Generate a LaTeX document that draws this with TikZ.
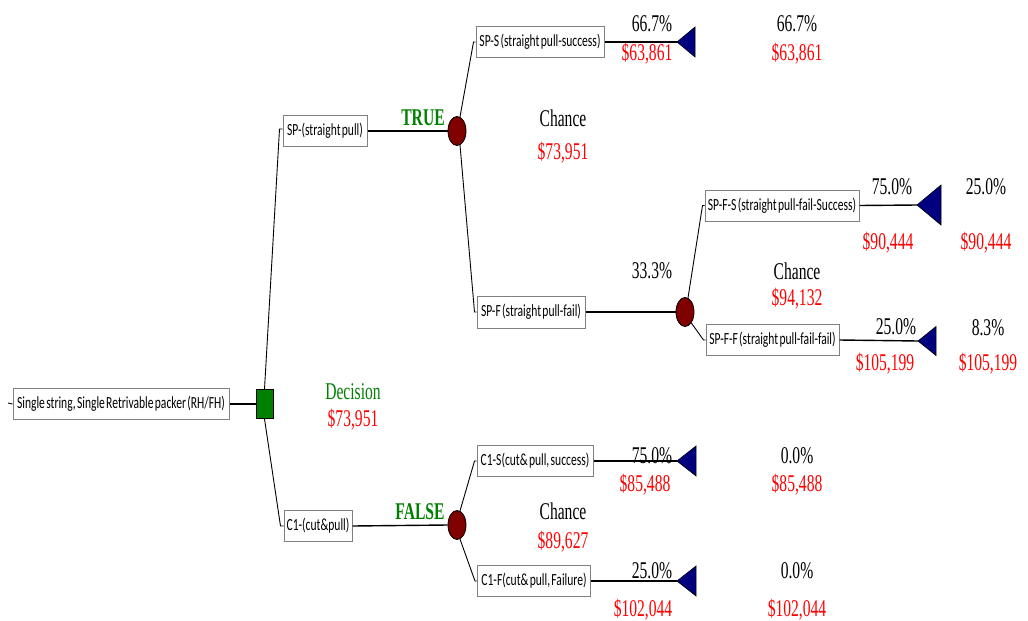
\documentclass[tikz,border=0pt]{standalone}
\usepackage{fontspec}
\usetikzlibrary{shapes.geometric}
\newfontfamily\numfont[FakeStretch=0.65]{Liberation Serif}
\newfontfamily\lblfont[FakeStretch=0.68,WordSpace=0.5]{Carlito}
\definecolor{chancered}{HTML}{800000}
\definecolor{decgreen}{HTML}{008000}
\definecolor{endblue}{HTML}{000080}
\definecolor{valred}{HTML}{FF0000}
\definecolor{boxgray}{HTML}{808080}

\begin{document}
\begin{tikzpicture}[x=1pt,y=-1pt,
  branch/.style={draw=boxgray, line width=1pt, fill=white, minimum height=31pt,
    inner sep=0pt, font=\lblfont\fontsize{17}{17}\selectfont},
  chance/.style={ellipse, draw=black, fill=chancered, minimum width=18pt,
    minimum height=29pt, inner sep=0pt, line width=0.8pt},
  decision/.style={rectangle, draw=black, fill=decgreen, minimum width=17pt,
    minimum height=29pt, inner sep=0pt, line width=0.8pt},
  endtri/.style={draw=black, fill=endblue, line width=0.6pt},
  link/.style={line width=1.4pt},
  slant/.style={line width=0.9pt},
  val/.style={font=\numfont\fontsize{24}{24}\selectfont, inner sep=0pt,
    text height=16pt, text depth=0pt},
  prob/.style={val, text=black},
  pay/.style={val, text=valred},
  tag/.style={val, text=decgreen},
  flag/.style={val, text=decgreen, font=\numfont\bfseries\fontsize{24}{24}\selectfont}
]
\fill[white] (0,0) rectangle (1028,621);
\useasboundingbox (0,0) rectangle (1028,621);

% decision root
\node[branch, minimum width=216pt] (root) at (121,404) {Single string, Single Retrivable packer (RH/FH)};
\node[decision] (dec) at (264.5,404) {};
\coordinate (stub) at (8,403);

% first level branches
\node[branch, minimum width=84pt] (sp) at (325,131) {SP-(straight pull)};
\node[branch, minimum width=68pt] (cut) at (318,526) {C1-(cut\&pull)};

% chance nodes
\node[chance] (cA) at (457,131) {};
\node[chance] (cB) at (685,312) {};
\node[chance] (cC) at (457,525) {};

% outcome branches
\node[branch, minimum width=128pt] (spS) at (540,42) {SP-S (straight pull-success)};
\node[branch, minimum width=108pt, minimum height=32pt] (spF) at (531,312) {SP-F (straight pull-fail)};
\node[branch, minimum width=154pt] (spFS) at (782,205.5) {SP-F-S (straight pull-fail-Success)};
\node[branch, minimum width=133pt, minimum height=31pt] (spFF) at (772.5,340) {SP-F-F (straight pull-fail-fail)};
\node[branch, minimum width=116pt, minimum height=31pt] (cutS) at (535,461) {C1-S(cut\& pull, success)};
\node[branch, minimum width=113pt, minimum height=31pt] (cutF) at (534,581) {C1-F(cut\& pull, Failure)};

% end nodes (triangles)
\coordinate (eSPS) at (677,42);
\coordinate (eSPFS) at (917,205);
\coordinate (eSPFF) at (918,341);
\coordinate (eCS) at (677,461);
\coordinate (eCF) at (677,581);
\filldraw[endtri] (eSPS) -- ++(18,-15) -- ++(0,30) -- cycle;
\filldraw[endtri] (eSPFS) -- ++(24,-20) -- ++(0,40) -- cycle;
\filldraw[endtri] (eSPFF) -- ++(18,-14.5) -- ++(0,29) -- cycle;
\filldraw[endtri] (eCS) -- ++(19,-15) -- ++(0,30) -- cycle;
\filldraw[endtri] (eCF) -- ++(19,-15) -- ++(0,30) -- cycle;

% connectors
\draw[slant] (stub) -- (root.west);
\draw[link] (root.east) -- (dec.west);
\draw[slant] (dec.north) -- ([xshift=-3pt,yshift=2pt]sp.west) -- ([yshift=2pt]sp.west);
\draw[slant] (dec.south) -- ([xshift=-3pt]cut.west) -- (cut.west);
\draw[link] (sp.east) -- (cA.west);
\draw[link] (cut.east) -- (cC.west);
\draw[slant] (cA.78) -- ([xshift=-2pt]spS.west) -- (spS.west);
\draw[slant] (cA.-78) -- ([xshift=-2pt]spF.west) -- (spF.west);
\draw[link] (spF.east) -- (cB.west);
\draw[slant] (cB.78) -- ([xshift=-2pt]spFS.west) -- (spFS.west);
\draw[slant] (cB.-60) -- ([xshift=-2pt]spFF.west) -- (spFF.west);
\draw[slant] (cC.78) -- ([xshift=-2pt]cutS.west) -- (cutS.west);
\draw[slant] (cC.-78) -- ([xshift=-2pt]cutF.west) -- (cutF.west);
\draw[link] (spS.east) -- (eSPS);
\draw[link] (spFS.east) -- (eSPFS);
\draw[link] (spFF.east) -- (eSPFF);
\draw[link] (cutS.east) -- (eCS);
\draw[link] (cutF.east) -- (eCF);

% decision labels
\node[tag] (decT) at (353,391) {Decision};
\node[pay] (decV) at (353,418) {\$73,951};
\node[flag] (trueT) at (423,117) {TRUE};
\node[flag] (falseT) at (420,511) {FALSE};

% chance labels
\node[prob] (chA) at (563,118) {Chance};
\node[pay] (chAv) at (563,151) {\$73,951};
\node[prob] (chB) at (797,271) {Chance};
\node[pay] (chBv) at (797,297) {\$94,132};
\node[prob] (chC) at (563,511) {Chance};
\node[pay] (chCv) at (563,540) {\$89,627};
\node[prob] (pSPF) at (652,270) {33.3\%};

% end node values
\node[prob] (p1) at (652,23) {66.7\%};
\node[pay] (v1) at (647,52) {\$63,861};
\node[prob] (q1) at (797,23) {66.7\%};
\node[pay] (w1) at (797,52) {\$63,861};

\node[prob] (p2) at (892,186) {75.0\%};
\node[pay] (v2) at (888,241) {\$90,444};
\node[prob] (q2) at (986,186) {25.0\%};
\node[pay] (w2) at (986,241) {\$90,444};

\node[prob] (p3) at (896,326) {25.0\%};
\node[pay] (v3) at (885,362) {\$105,199};
\node[prob] (q3) at (988,327) {8.3\%};
\node[pay] (w3) at (988,362) {\$105,199};

\node[prob] (p4) at (652,455) {75.0\%};
\node[pay] (v4) at (645,483) {\$85,488};
\node[prob] (q4) at (797,455) {0.0\%};
\node[pay] (w4) at (797,483) {\$85,488};

\node[prob] (p5) at (652,570) {25.0\%};
\node[pay] (v5) at (643,608) {\$102,044};
\node[prob] (q5) at (797,570) {0.0\%};
\node[pay] (w5) at (797,608) {\$102,044};
\end{tikzpicture}
\end{document}
